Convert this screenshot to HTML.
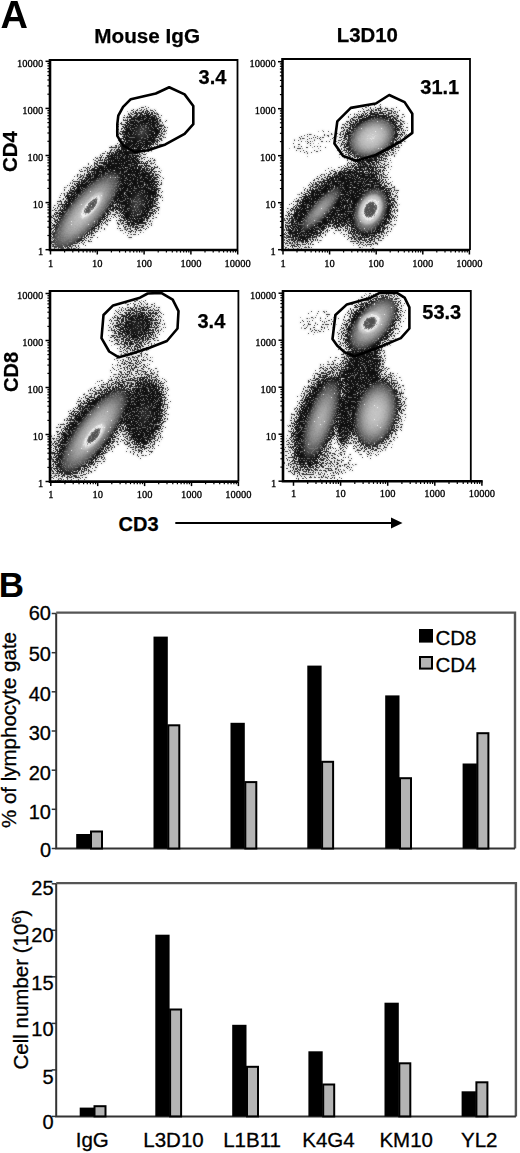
<!DOCTYPE html>
<html><head><meta charset="utf-8"><style>html,body{margin:0;padding:0;background:#fff;}svg{display:block;}</style></head>
<body>
<svg width="520" height="1153" viewBox="0 0 520 1153">
<rect width="520" height="1153" fill="#fff"/>
<defs>
<radialGradient id="g1"><stop offset="0.00" stop-color="#000" stop-opacity="0.600"/><stop offset="0.50" stop-color="#000" stop-opacity="0.520"/><stop offset="0.60" stop-color="#000" stop-opacity="0.450"/><stop offset="0.70" stop-color="#000" stop-opacity="0.330"/><stop offset="0.80" stop-color="#000" stop-opacity="0.200"/><stop offset="0.90" stop-color="#000" stop-opacity="0.090"/><stop offset="1.00" stop-color="#000" stop-opacity="0.000"/></radialGradient>
<radialGradient id="g2"><stop offset="0.00" stop-color="#000" stop-opacity="0.420"/><stop offset="0.50" stop-color="#000" stop-opacity="0.360"/><stop offset="0.70" stop-color="#000" stop-opacity="0.240"/><stop offset="0.85" stop-color="#000" stop-opacity="0.110"/><stop offset="1.00" stop-color="#000" stop-opacity="0.000"/></radialGradient>
<radialGradient id="g3"><stop offset="0.00" stop-color="#fff" stop-opacity="0.740"/><stop offset="0.20" stop-color="#fff" stop-opacity="0.703"/><stop offset="0.50" stop-color="#fff" stop-opacity="0.533"/><stop offset="0.80" stop-color="#fff" stop-opacity="0.266"/><stop offset="1.00" stop-color="#fff" stop-opacity="0.000"/></radialGradient>
<radialGradient id="g4"><stop offset="0.00" stop-color="#fff" stop-opacity="0.200"/><stop offset="0.20" stop-color="#fff" stop-opacity="0.190"/><stop offset="0.50" stop-color="#fff" stop-opacity="0.144"/><stop offset="0.80" stop-color="#fff" stop-opacity="0.072"/><stop offset="1.00" stop-color="#fff" stop-opacity="0.000"/></radialGradient>
<radialGradient id="g5"><stop offset="0.00" stop-color="#fff" stop-opacity="1.000"/><stop offset="0.40" stop-color="#fff" stop-opacity="1.000"/><stop offset="0.50" stop-color="#fff" stop-opacity="0.750"/><stop offset="0.80" stop-color="#fff" stop-opacity="0.450"/><stop offset="1.00" stop-color="#fff" stop-opacity="0.000"/></radialGradient>
<radialGradient id="g6"><stop offset="0.00" stop-color="#000" stop-opacity="0.070"/><stop offset="0.60" stop-color="#000" stop-opacity="0.050"/><stop offset="1.00" stop-color="#000" stop-opacity="0.000"/></radialGradient>
<radialGradient id="g7"><stop offset="0.00" stop-color="#fff" stop-opacity="0.820"/><stop offset="0.20" stop-color="#fff" stop-opacity="0.779"/><stop offset="0.50" stop-color="#fff" stop-opacity="0.590"/><stop offset="0.80" stop-color="#fff" stop-opacity="0.295"/><stop offset="1.00" stop-color="#fff" stop-opacity="0.000"/></radialGradient>
<radialGradient id="g8"><stop offset="0.00" stop-color="#fff" stop-opacity="0.520"/><stop offset="0.20" stop-color="#fff" stop-opacity="0.494"/><stop offset="0.50" stop-color="#fff" stop-opacity="0.374"/><stop offset="0.80" stop-color="#fff" stop-opacity="0.187"/><stop offset="1.00" stop-color="#fff" stop-opacity="0.000"/></radialGradient>
<radialGradient id="g9"><stop offset="0.00" stop-color="#fff" stop-opacity="0.720"/><stop offset="0.20" stop-color="#fff" stop-opacity="0.684"/><stop offset="0.50" stop-color="#fff" stop-opacity="0.518"/><stop offset="0.80" stop-color="#fff" stop-opacity="0.259"/><stop offset="1.00" stop-color="#fff" stop-opacity="0.000"/></radialGradient>
<radialGradient id="g10"><stop offset="0.00" stop-color="#000" stop-opacity="0.220"/><stop offset="0.50" stop-color="#000" stop-opacity="0.150"/><stop offset="0.80" stop-color="#000" stop-opacity="0.060"/><stop offset="1.00" stop-color="#000" stop-opacity="0.000"/></radialGradient>
<radialGradient id="g11"><stop offset="0.00" stop-color="#fff" stop-opacity="0.150"/><stop offset="0.20" stop-color="#fff" stop-opacity="0.142"/><stop offset="0.50" stop-color="#fff" stop-opacity="0.108"/><stop offset="0.80" stop-color="#fff" stop-opacity="0.054"/><stop offset="1.00" stop-color="#fff" stop-opacity="0.000"/></radialGradient>
<radialGradient id="g12"><stop offset="0.00" stop-color="#fff" stop-opacity="0.120"/><stop offset="0.20" stop-color="#fff" stop-opacity="0.114"/><stop offset="0.50" stop-color="#fff" stop-opacity="0.086"/><stop offset="0.80" stop-color="#fff" stop-opacity="0.043"/><stop offset="1.00" stop-color="#fff" stop-opacity="0.000"/></radialGradient>
<radialGradient id="g13"><stop offset="0.00" stop-color="#fff" stop-opacity="0.600"/><stop offset="0.20" stop-color="#fff" stop-opacity="0.570"/><stop offset="0.50" stop-color="#fff" stop-opacity="0.432"/><stop offset="0.80" stop-color="#fff" stop-opacity="0.216"/><stop offset="1.00" stop-color="#fff" stop-opacity="0.000"/></radialGradient>
<radialGradient id="g14"><stop offset="0.00" stop-color="#fff" stop-opacity="0.760"/><stop offset="0.20" stop-color="#fff" stop-opacity="0.722"/><stop offset="0.50" stop-color="#fff" stop-opacity="0.547"/><stop offset="0.80" stop-color="#fff" stop-opacity="0.274"/><stop offset="1.00" stop-color="#fff" stop-opacity="0.000"/></radialGradient>
<clipPath id="cP1"><rect x="51" y="61" width="186" height="188"/></clipPath>
<clipPath id="cP2"><rect x="283.5" y="60" width="186.0" height="189"/></clipPath>
<clipPath id="cP3"><rect x="51" y="292" width="187" height="189"/></clipPath>
<clipPath id="cP4"><rect x="284" y="292" width="186" height="188.5"/></clipPath>
<filter id="dens" filterUnits="userSpaceOnUse" x="45" y="55" width="430" height="432" color-interpolation-filters="sRGB">
<feColorMatrix in="SourceAlpha" type="matrix" values="0 0 0 1 0  0 0 0 1 0  0 0 0 1 0  0 0 0 0 1" result="d"/>
<feFlood flood-color="#000" flood-opacity="1" result="blk"/>
<feComposite in="SourceGraphic" in2="blk" operator="over" result="ri"/>
<feTurbulence type="fractalNoise" baseFrequency="0.7" numOctaves="1" seed="7" result="nz"/>
<feColorMatrix in="nz" type="matrix" values="1 0 0 0 0  1 0 0 0 0  1 0 0 0 0  0 0 0 0 1" result="n"/>
<feComponentTransfer in="n" result="nu">
<feFuncR type="table" tableValues="1.0000 1.0000 1.0000 1.0000 1.0000 1.0000 1.0000 1.0000 1.0000 1.0000 0.9999 0.9999 0.9999 0.9998 0.9998 0.9996 0.9995 0.9993 0.9990 0.9986 0.9981 0.9975 0.9966 0.9955 0.9940 0.9922 0.9899 0.9869 0.9833 0.9789 0.9735 0.9669 0.9591 0.9499 0.9391 0.9266 0.9121 0.8957 0.8771 0.8563 0.8333 0.8080 0.7804 0.7508 0.7191 0.6857 0.6506 0.6141 0.5767 0.5385 0.5000 0.4615 0.4233 0.3859 0.3494 0.3143 0.2809 0.2492 0.2196 0.1920 0.1667 0.1437 0.1229 0.1043 0.0879 0.0734 0.0609 0.0501 0.0409 0.0331 0.0265 0.0211 0.0167 0.0131 0.0101 0.0078 0.0060 0.0045 0.0034 0.0025 0.0019 0.0014 0.0010 0.0007 0.0005 0.0004 0.0002 0.0002 0.0001 0.0001 0.0001 0.0000 0.0000 0.0000 0.0000 0.0000 0.0000 0.0000 0.0000 0.0000 0.0000"/><feFuncG type="table" tableValues="1.0000 1.0000 1.0000 1.0000 1.0000 1.0000 1.0000 1.0000 1.0000 1.0000 0.9999 0.9999 0.9999 0.9998 0.9998 0.9996 0.9995 0.9993 0.9990 0.9986 0.9981 0.9975 0.9966 0.9955 0.9940 0.9922 0.9899 0.9869 0.9833 0.9789 0.9735 0.9669 0.9591 0.9499 0.9391 0.9266 0.9121 0.8957 0.8771 0.8563 0.8333 0.8080 0.7804 0.7508 0.7191 0.6857 0.6506 0.6141 0.5767 0.5385 0.5000 0.4615 0.4233 0.3859 0.3494 0.3143 0.2809 0.2492 0.2196 0.1920 0.1667 0.1437 0.1229 0.1043 0.0879 0.0734 0.0609 0.0501 0.0409 0.0331 0.0265 0.0211 0.0167 0.0131 0.0101 0.0078 0.0060 0.0045 0.0034 0.0025 0.0019 0.0014 0.0010 0.0007 0.0005 0.0004 0.0002 0.0002 0.0001 0.0001 0.0001 0.0000 0.0000 0.0000 0.0000 0.0000 0.0000 0.0000 0.0000 0.0000 0.0000"/><feFuncB type="table" tableValues="1.0000 1.0000 1.0000 1.0000 1.0000 1.0000 1.0000 1.0000 1.0000 1.0000 0.9999 0.9999 0.9999 0.9998 0.9998 0.9996 0.9995 0.9993 0.9990 0.9986 0.9981 0.9975 0.9966 0.9955 0.9940 0.9922 0.9899 0.9869 0.9833 0.9789 0.9735 0.9669 0.9591 0.9499 0.9391 0.9266 0.9121 0.8957 0.8771 0.8563 0.8333 0.8080 0.7804 0.7508 0.7191 0.6857 0.6506 0.6141 0.5767 0.5385 0.5000 0.4615 0.4233 0.3859 0.3494 0.3143 0.2809 0.2492 0.2196 0.1920 0.1667 0.1437 0.1229 0.1043 0.0879 0.0734 0.0609 0.0501 0.0409 0.0331 0.0265 0.0211 0.0167 0.0131 0.0101 0.0078 0.0060 0.0045 0.0034 0.0025 0.0019 0.0014 0.0010 0.0007 0.0005 0.0004 0.0002 0.0002 0.0001 0.0001 0.0001 0.0000 0.0000 0.0000 0.0000 0.0000 0.0000 0.0000 0.0000 0.0000 0.0000"/>
</feComponentTransfer>
<feComponentTransfer in="d" result="dc">
<feFuncR type="table" tableValues="0.0000 0.0222 0.0444 0.0667 0.0889 0.1111 0.1333 0.1556 0.1778 0.2000 0.2222 0.2444 0.2667 0.2889 0.3111 0.3333 0.3556 0.3778 0.4000 0.4222 0.4444 0.4667 0.4889 0.5111 0.5333 0.5556 0.5778 0.6000 0.6222 0.6444 0.6667 0.6889 0.7111 0.7333 0.7556 0.7778 0.8000 0.8222 0.8444 0.8667 0.8889 0.9111 0.9333 0.9556 0.9778 1.0000 1.0000 1.0000 1.0000 1.0000 1.0000 1.0000 1.0000 1.0000 1.0000 1.0000 1.0000 1.0000 1.0000 1.0000 1.0000 1.0000 1.0000 1.0000 1.0000 1.0000 1.0000 1.0000 1.0000 1.0000 1.0000 1.0000 1.0000 1.0000 1.0000 1.0000 1.0000 1.0000 1.0000 1.0000 1.0000 1.0000 1.0000 1.0000 1.0000 1.0000 1.0000 1.0000 1.0000 1.0000 1.0000 1.0000 1.0000 1.0000 1.0000 1.0000 1.0000 1.0000 1.0000 1.0000 1.0000"/><feFuncG type="table" tableValues="0.0000 0.0222 0.0444 0.0667 0.0889 0.1111 0.1333 0.1556 0.1778 0.2000 0.2222 0.2444 0.2667 0.2889 0.3111 0.3333 0.3556 0.3778 0.4000 0.4222 0.4444 0.4667 0.4889 0.5111 0.5333 0.5556 0.5778 0.6000 0.6222 0.6444 0.6667 0.6889 0.7111 0.7333 0.7556 0.7778 0.8000 0.8222 0.8444 0.8667 0.8889 0.9111 0.9333 0.9556 0.9778 1.0000 1.0000 1.0000 1.0000 1.0000 1.0000 1.0000 1.0000 1.0000 1.0000 1.0000 1.0000 1.0000 1.0000 1.0000 1.0000 1.0000 1.0000 1.0000 1.0000 1.0000 1.0000 1.0000 1.0000 1.0000 1.0000 1.0000 1.0000 1.0000 1.0000 1.0000 1.0000 1.0000 1.0000 1.0000 1.0000 1.0000 1.0000 1.0000 1.0000 1.0000 1.0000 1.0000 1.0000 1.0000 1.0000 1.0000 1.0000 1.0000 1.0000 1.0000 1.0000 1.0000 1.0000 1.0000 1.0000"/><feFuncB type="table" tableValues="0.0000 0.0222 0.0444 0.0667 0.0889 0.1111 0.1333 0.1556 0.1778 0.2000 0.2222 0.2444 0.2667 0.2889 0.3111 0.3333 0.3556 0.3778 0.4000 0.4222 0.4444 0.4667 0.4889 0.5111 0.5333 0.5556 0.5778 0.6000 0.6222 0.6444 0.6667 0.6889 0.7111 0.7333 0.7556 0.7778 0.8000 0.8222 0.8444 0.8667 0.8889 0.9111 0.9333 0.9556 0.9778 1.0000 1.0000 1.0000 1.0000 1.0000 1.0000 1.0000 1.0000 1.0000 1.0000 1.0000 1.0000 1.0000 1.0000 1.0000 1.0000 1.0000 1.0000 1.0000 1.0000 1.0000 1.0000 1.0000 1.0000 1.0000 1.0000 1.0000 1.0000 1.0000 1.0000 1.0000 1.0000 1.0000 1.0000 1.0000 1.0000 1.0000 1.0000 1.0000 1.0000 1.0000 1.0000 1.0000 1.0000 1.0000 1.0000 1.0000 1.0000 1.0000 1.0000 1.0000 1.0000 1.0000 1.0000 1.0000 1.0000"/>
</feComponentTransfer>
<feComposite in="dc" in2="nu" operator="arithmetic" k2="1" k3="1" k4="-0.51" result="s1"/>
<feComponentTransfer in="s1" result="m1">
<feFuncR type="discrete" tableValues="1 0"/><feFuncG type="discrete" tableValues="1 0"/><feFuncB type="discrete" tableValues="1 0"/>
</feComponentTransfer>
<feComponentTransfer in="d" result="dcb">
<feFuncR type="table" tableValues="0.0000 0.0182 0.0364 0.0547 0.0729 0.0911 0.1093 0.1276 0.1458 0.1640 0.1822 0.2004 0.2187 0.2369 0.2551 0.2733 0.2916 0.3098 0.3280 0.3462 0.3644 0.3827 0.4009 0.4191 0.4373 0.4556 0.4738 0.4920 0.5102 0.5284 0.5467 0.5649 0.5831 0.6013 0.6196 0.6378 0.6560 0.6742 0.6924 0.7107 0.7289 0.7471 0.7653 0.7836 0.8018 0.8200 0.8200 0.8200 0.8200 0.8200 0.8200 0.8200 0.8200 0.8200 0.8200 0.8200 0.8200 0.8200 0.8200 0.8200 0.8200 0.8200 0.8200 0.8200 0.8200 0.8200 0.8200 0.8200 0.8200 0.8200 0.8200 0.8200 0.8200 0.8200 0.8200 0.8200 0.8200 0.8200 0.8200 0.8200 0.8200 0.8200 0.8200 0.8200 0.8200 0.8200 0.8200 0.8200 0.8200 0.8200 0.8200 0.8200 0.8200 0.8200 0.8200 0.8200 0.8200 0.8200 0.8200 0.8200 0.8200"/><feFuncG type="table" tableValues="0.0000 0.0182 0.0364 0.0547 0.0729 0.0911 0.1093 0.1276 0.1458 0.1640 0.1822 0.2004 0.2187 0.2369 0.2551 0.2733 0.2916 0.3098 0.3280 0.3462 0.3644 0.3827 0.4009 0.4191 0.4373 0.4556 0.4738 0.4920 0.5102 0.5284 0.5467 0.5649 0.5831 0.6013 0.6196 0.6378 0.6560 0.6742 0.6924 0.7107 0.7289 0.7471 0.7653 0.7836 0.8018 0.8200 0.8200 0.8200 0.8200 0.8200 0.8200 0.8200 0.8200 0.8200 0.8200 0.8200 0.8200 0.8200 0.8200 0.8200 0.8200 0.8200 0.8200 0.8200 0.8200 0.8200 0.8200 0.8200 0.8200 0.8200 0.8200 0.8200 0.8200 0.8200 0.8200 0.8200 0.8200 0.8200 0.8200 0.8200 0.8200 0.8200 0.8200 0.8200 0.8200 0.8200 0.8200 0.8200 0.8200 0.8200 0.8200 0.8200 0.8200 0.8200 0.8200 0.8200 0.8200 0.8200 0.8200 0.8200 0.8200"/><feFuncB type="table" tableValues="0.0000 0.0182 0.0364 0.0547 0.0729 0.0911 0.1093 0.1276 0.1458 0.1640 0.1822 0.2004 0.2187 0.2369 0.2551 0.2733 0.2916 0.3098 0.3280 0.3462 0.3644 0.3827 0.4009 0.4191 0.4373 0.4556 0.4738 0.4920 0.5102 0.5284 0.5467 0.5649 0.5831 0.6013 0.6196 0.6378 0.6560 0.6742 0.6924 0.7107 0.7289 0.7471 0.7653 0.7836 0.8018 0.8200 0.8200 0.8200 0.8200 0.8200 0.8200 0.8200 0.8200 0.8200 0.8200 0.8200 0.8200 0.8200 0.8200 0.8200 0.8200 0.8200 0.8200 0.8200 0.8200 0.8200 0.8200 0.8200 0.8200 0.8200 0.8200 0.8200 0.8200 0.8200 0.8200 0.8200 0.8200 0.8200 0.8200 0.8200 0.8200 0.8200 0.8200 0.8200 0.8200 0.8200 0.8200 0.8200 0.8200 0.8200 0.8200 0.8200 0.8200 0.8200 0.8200 0.8200 0.8200 0.8200 0.8200 0.8200 0.8200"/>
</feComponentTransfer>
<feComposite in="dcb" in2="nu" operator="arithmetic" k2="1" k3="1" k4="-0.51" result="s1b"/>
<feComponentTransfer in="s1b" result="m2">
<feFuncR type="discrete" tableValues="1 0"/><feFuncG type="discrete" tableValues="1 0"/><feFuncB type="discrete" tableValues="1 0"/>
</feComponentTransfer>
<feComposite in="m1" in2="m2" operator="arithmetic" k2="0.5" k3="0.5" result="m"/>
<feComposite in="ri" in2="n" operator="arithmetic" k2="1" k3="0.2" k4="-0.1" result="s2"/>
<feComponentTransfer in="s2" result="g">
<feFuncR type="table" tableValues="0.050 0.055 0.060 0.065 0.070 0.075 0.080 0.085 0.090 0.095 0.100 0.115 0.129 0.144 0.159 0.173 0.188 0.203 0.217 0.232 0.247 0.261 0.276 0.291 0.305 0.320 0.332 0.343 0.355 0.366 0.378 0.389 0.401 0.412 0.424 0.435 0.447 0.458 0.470 0.481 0.493 0.504 0.516 0.527 0.538 0.550 0.558 0.567 0.576 0.584 0.593 0.601 0.610 0.618 0.627 0.635 0.644 0.652 0.660 0.669 0.677 0.686 0.694 0.703 0.712 0.720 0.725 0.729 0.734 0.739 0.743 0.748 0.753 0.757 0.762 0.767 0.771 0.776 0.781 0.785 0.790 0.820 0.850 0.880 0.910 0.940 0.970 0.965 0.960 0.955 0.950 0.753 0.557 0.360 0.351 0.343 0.334 0.326 0.317 0.309 0.300"/><feFuncG type="table" tableValues="0.050 0.055 0.060 0.065 0.070 0.075 0.080 0.085 0.090 0.095 0.100 0.115 0.129 0.144 0.159 0.173 0.188 0.203 0.217 0.232 0.247 0.261 0.276 0.291 0.305 0.320 0.332 0.343 0.355 0.366 0.378 0.389 0.401 0.412 0.424 0.435 0.447 0.458 0.470 0.481 0.493 0.504 0.516 0.527 0.538 0.550 0.558 0.567 0.576 0.584 0.593 0.601 0.610 0.618 0.627 0.635 0.644 0.652 0.660 0.669 0.677 0.686 0.694 0.703 0.712 0.720 0.725 0.729 0.734 0.739 0.743 0.748 0.753 0.757 0.762 0.767 0.771 0.776 0.781 0.785 0.790 0.820 0.850 0.880 0.910 0.940 0.970 0.965 0.960 0.955 0.950 0.753 0.557 0.360 0.351 0.343 0.334 0.326 0.317 0.309 0.300"/><feFuncB type="table" tableValues="0.050 0.055 0.060 0.065 0.070 0.075 0.080 0.085 0.090 0.095 0.100 0.115 0.129 0.144 0.159 0.173 0.188 0.203 0.217 0.232 0.247 0.261 0.276 0.291 0.305 0.320 0.332 0.343 0.355 0.366 0.378 0.389 0.401 0.412 0.424 0.435 0.447 0.458 0.470 0.481 0.493 0.504 0.516 0.527 0.538 0.550 0.558 0.567 0.576 0.584 0.593 0.601 0.610 0.618 0.627 0.635 0.644 0.652 0.660 0.669 0.677 0.686 0.694 0.703 0.712 0.720 0.725 0.729 0.734 0.739 0.743 0.748 0.753 0.757 0.762 0.767 0.771 0.776 0.781 0.785 0.790 0.820 0.850 0.880 0.910 0.940 0.970 0.965 0.960 0.955 0.950 0.753 0.557 0.360 0.351 0.343 0.334 0.326 0.317 0.309 0.300"/>
</feComponentTransfer>
<feBlend in="m" in2="g" mode="lighten" result="fin"/>
<feGaussianBlur in="fin" stdDeviation="1.0" result="bl"/>
<feComposite in="fin" in2="bl" operator="arithmetic" k2="0.5" k3="0.5"/>
</filter>
</defs>
<g filter="url(#dens)">
<g clip-path="url(#cP1)"><ellipse cx="91" cy="201" rx="72" ry="30" transform="rotate(-52 91 201)" fill="url(#g1)"/><ellipse cx="138" cy="196" rx="44" ry="26" transform="rotate(-78 138 196)" fill="url(#g1)"/><ellipse cx="142" cy="131" rx="28" ry="25" transform="rotate(-40 142 131)" fill="url(#g1)"/><ellipse cx="123" cy="160" rx="26" ry="18" transform="rotate(-50 123 160)" fill="url(#g2)"/><ellipse cx="86" cy="211" rx="54" ry="18" transform="rotate(-50 86 211)" fill="url(#g3)"/><ellipse cx="137" cy="204" rx="18" ry="10" transform="rotate(-78 137 204)" fill="url(#g4)"/><ellipse cx="142" cy="132" rx="12" ry="10" transform="rotate(-40 142 132)" fill="url(#g4)"/><ellipse cx="91.3" cy="205.8" rx="18" ry="6.5" transform="rotate(-51 91.3 205.8)" fill="url(#g5)"/></g>
<g clip-path="url(#cP2)"><ellipse cx="372" cy="136" rx="40" ry="31" transform="rotate(-30 372 136)" fill="url(#g1)"/><ellipse cx="317" cy="210" rx="56" ry="26" transform="rotate(-50 317 210)" fill="url(#g1)"/><ellipse cx="312" cy="143" rx="30" ry="14" transform="rotate(-15 312 143)" fill="url(#g6)"/><ellipse cx="370" cy="211" rx="42" ry="30" transform="rotate(-72 370 211)" fill="url(#g1)"/><ellipse cx="356" cy="178" rx="40" ry="18" transform="rotate(-25 356 178)" fill="url(#g2)"/><ellipse cx="345" cy="205" rx="32" ry="14" transform="rotate(-70 345 205)" fill="url(#g1)"/><ellipse cx="372" cy="137.5" rx="27" ry="20" transform="rotate(-30 372 137.5)" fill="url(#g7)"/><ellipse cx="321" cy="209" rx="32" ry="9.5" transform="rotate(-48 321 209)" fill="url(#g8)"/><ellipse cx="370.5" cy="210.5" rx="26" ry="17" transform="rotate(-66 370.5 210.5)" fill="url(#g9)"/><ellipse cx="370.5" cy="209.5" rx="17" ry="12" transform="rotate(-65 370.5 209.5)" fill="url(#g5)"/></g>
<g clip-path="url(#cP3)"><ellipse cx="91" cy="431" rx="72" ry="32" transform="rotate(-53 91 431)" fill="url(#g1)"/><ellipse cx="145" cy="413" rx="48" ry="25" transform="rotate(-80 145 413)" fill="url(#g1)"/><ellipse cx="136" cy="327" rx="32" ry="27" transform="rotate(-30 136 327)" fill="url(#g2)"/><ellipse cx="137" cy="325" rx="14" ry="12" transform="rotate(-30 137 325)" fill="url(#g1)"/><ellipse cx="132" cy="368" rx="32" ry="22" transform="rotate(-70 132 368)" fill="url(#g10)"/><ellipse cx="94" cy="431" rx="56" ry="18" transform="rotate(-53 94 431)" fill="url(#g3)"/><ellipse cx="145" cy="415" rx="16" ry="9" transform="rotate(-80 145 415)" fill="url(#g11)"/><ellipse cx="136" cy="327" rx="10" ry="9" transform="rotate(-30 136 327)" fill="url(#g12)"/><ellipse cx="93.75" cy="436.25" rx="18" ry="7" transform="rotate(-50 93.75 436.25)" fill="url(#g5)"/></g>
<g clip-path="url(#cP4)"><ellipse cx="371" cy="325" rx="44" ry="29" transform="rotate(-50 371 325)" fill="url(#g1)"/><ellipse cx="318" cy="418" rx="66" ry="28" transform="rotate(-70 318 418)" fill="url(#g1)"/><ellipse cx="376" cy="413" rx="48" ry="31" transform="rotate(-75 376 413)" fill="url(#g1)"/><ellipse cx="362" cy="368" rx="32" ry="24" transform="rotate(-60 362 368)" fill="url(#g1)"/><ellipse cx="349" cy="412" rx="46" ry="11" transform="rotate(-78 349 412)" fill="url(#g1)"/><ellipse cx="320" cy="465" rx="40" ry="20" transform="rotate(0 320 465)" fill="url(#g10)"/><ellipse cx="318" cy="322" rx="24" ry="14" transform="rotate(-10 318 322)" fill="url(#g6)"/><ellipse cx="373" cy="323.6" rx="35" ry="17.5" transform="rotate(-50 373 323.6)" fill="url(#g3)"/><ellipse cx="321" cy="419" rx="46" ry="15" transform="rotate(-71 321 419)" fill="url(#g13)"/><ellipse cx="375.75" cy="413.75" rx="36" ry="22" transform="rotate(-75 375.75 413.75)" fill="url(#g14)"/><ellipse cx="369.5" cy="322.7" rx="14" ry="10" transform="rotate(-40 369.5 322.7)" fill="url(#g5)"/></g>
</g>
<path d="M50 60H237.5V250" fill="none" stroke="#000" stroke-width="1.8"/>
<path d="M50 59.1V250H237.5" fill="none" stroke="#000" stroke-width="2.6"/>
<line x1="45.5" y1="249.7" x2="50" y2="249.7" stroke="#000" stroke-width="1.5"/>
<text x="43.2" y="255.0" font-family="&quot;Liberation Serif&quot;, serif" font-size="10.5" text-anchor="end" stroke="#000" stroke-width="0.3">1</text>
<line x1="47.4" y1="235.5" x2="50" y2="235.5" stroke="#000" stroke-width="1.2"/>
<line x1="47.4" y1="227.2" x2="50" y2="227.2" stroke="#000" stroke-width="1.2"/>
<line x1="47.4" y1="221.3" x2="50" y2="221.3" stroke="#000" stroke-width="1.2"/>
<line x1="47.4" y1="216.8" x2="50" y2="216.8" stroke="#000" stroke-width="1.2"/>
<line x1="47.4" y1="213.0" x2="50" y2="213.0" stroke="#000" stroke-width="1.2"/>
<line x1="47.4" y1="209.9" x2="50" y2="209.9" stroke="#000" stroke-width="1.2"/>
<line x1="47.4" y1="207.2" x2="50" y2="207.2" stroke="#000" stroke-width="1.2"/>
<line x1="47.4" y1="204.8" x2="50" y2="204.8" stroke="#000" stroke-width="1.2"/>
<line x1="45.5" y1="202.6" x2="50" y2="202.6" stroke="#000" stroke-width="1.5"/>
<text x="43.2" y="207.9" font-family="&quot;Liberation Serif&quot;, serif" font-size="10.5" text-anchor="end" stroke="#000" stroke-width="0.3">10</text>
<line x1="47.4" y1="188.4" x2="50" y2="188.4" stroke="#000" stroke-width="1.2"/>
<line x1="47.4" y1="180.1" x2="50" y2="180.1" stroke="#000" stroke-width="1.2"/>
<line x1="47.4" y1="174.2" x2="50" y2="174.2" stroke="#000" stroke-width="1.2"/>
<line x1="47.4" y1="169.7" x2="50" y2="169.7" stroke="#000" stroke-width="1.2"/>
<line x1="47.4" y1="165.9" x2="50" y2="165.9" stroke="#000" stroke-width="1.2"/>
<line x1="47.4" y1="162.8" x2="50" y2="162.8" stroke="#000" stroke-width="1.2"/>
<line x1="47.4" y1="160.1" x2="50" y2="160.1" stroke="#000" stroke-width="1.2"/>
<line x1="47.4" y1="157.7" x2="50" y2="157.7" stroke="#000" stroke-width="1.2"/>
<line x1="45.5" y1="155.5" x2="50" y2="155.5" stroke="#000" stroke-width="1.5"/>
<text x="43.2" y="160.8" font-family="&quot;Liberation Serif&quot;, serif" font-size="10.5" text-anchor="end" stroke="#000" stroke-width="0.3">100</text>
<line x1="47.4" y1="141.3" x2="50" y2="141.3" stroke="#000" stroke-width="1.2"/>
<line x1="47.4" y1="133.0" x2="50" y2="133.0" stroke="#000" stroke-width="1.2"/>
<line x1="47.4" y1="127.1" x2="50" y2="127.1" stroke="#000" stroke-width="1.2"/>
<line x1="47.4" y1="122.6" x2="50" y2="122.6" stroke="#000" stroke-width="1.2"/>
<line x1="47.4" y1="118.8" x2="50" y2="118.8" stroke="#000" stroke-width="1.2"/>
<line x1="47.4" y1="115.7" x2="50" y2="115.7" stroke="#000" stroke-width="1.2"/>
<line x1="47.4" y1="113.0" x2="50" y2="113.0" stroke="#000" stroke-width="1.2"/>
<line x1="47.4" y1="110.6" x2="50" y2="110.6" stroke="#000" stroke-width="1.2"/>
<line x1="45.5" y1="108.4" x2="50" y2="108.4" stroke="#000" stroke-width="1.5"/>
<text x="43.2" y="113.7" font-family="&quot;Liberation Serif&quot;, serif" font-size="10.5" text-anchor="end" stroke="#000" stroke-width="0.3">1000</text>
<line x1="47.4" y1="94.2" x2="50" y2="94.2" stroke="#000" stroke-width="1.2"/>
<line x1="47.4" y1="85.9" x2="50" y2="85.9" stroke="#000" stroke-width="1.2"/>
<line x1="47.4" y1="80.0" x2="50" y2="80.0" stroke="#000" stroke-width="1.2"/>
<line x1="47.4" y1="75.5" x2="50" y2="75.5" stroke="#000" stroke-width="1.2"/>
<line x1="47.4" y1="71.7" x2="50" y2="71.7" stroke="#000" stroke-width="1.2"/>
<line x1="47.4" y1="68.6" x2="50" y2="68.6" stroke="#000" stroke-width="1.2"/>
<line x1="47.4" y1="65.9" x2="50" y2="65.9" stroke="#000" stroke-width="1.2"/>
<line x1="47.4" y1="63.5" x2="50" y2="63.5" stroke="#000" stroke-width="1.2"/>
<line x1="45.5" y1="61.3" x2="50" y2="61.3" stroke="#000" stroke-width="1.5"/>
<text x="43.2" y="66.6" font-family="&quot;Liberation Serif&quot;, serif" font-size="10.5" text-anchor="end" stroke="#000" stroke-width="0.3">10000</text>
<line x1="50.5" y1="250" x2="50.5" y2="254.5" stroke="#000" stroke-width="1.5"/>
<text x="50.5" y="266.7" font-family="&quot;Liberation Serif&quot;, serif" font-size="10.5" text-anchor="middle" stroke="#000" stroke-width="0.3">1</text>
<line x1="64.6" y1="250" x2="64.6" y2="252.6" stroke="#000" stroke-width="1.2"/>
<line x1="72.8" y1="250" x2="72.8" y2="252.6" stroke="#000" stroke-width="1.2"/>
<line x1="78.7" y1="250" x2="78.7" y2="252.6" stroke="#000" stroke-width="1.2"/>
<line x1="83.2" y1="250" x2="83.2" y2="252.6" stroke="#000" stroke-width="1.2"/>
<line x1="86.9" y1="250" x2="86.9" y2="252.6" stroke="#000" stroke-width="1.2"/>
<line x1="90.1" y1="250" x2="90.1" y2="252.6" stroke="#000" stroke-width="1.2"/>
<line x1="92.8" y1="250" x2="92.8" y2="252.6" stroke="#000" stroke-width="1.2"/>
<line x1="95.2" y1="250" x2="95.2" y2="252.6" stroke="#000" stroke-width="1.2"/>
<line x1="97.3" y1="250" x2="97.3" y2="254.5" stroke="#000" stroke-width="1.5"/>
<text x="97.3" y="266.7" font-family="&quot;Liberation Serif&quot;, serif" font-size="10.5" text-anchor="middle" stroke="#000" stroke-width="0.3">10</text>
<line x1="111.4" y1="250" x2="111.4" y2="252.6" stroke="#000" stroke-width="1.2"/>
<line x1="119.6" y1="250" x2="119.6" y2="252.6" stroke="#000" stroke-width="1.2"/>
<line x1="125.5" y1="250" x2="125.5" y2="252.6" stroke="#000" stroke-width="1.2"/>
<line x1="130.0" y1="250" x2="130.0" y2="252.6" stroke="#000" stroke-width="1.2"/>
<line x1="133.7" y1="250" x2="133.7" y2="252.6" stroke="#000" stroke-width="1.2"/>
<line x1="136.9" y1="250" x2="136.9" y2="252.6" stroke="#000" stroke-width="1.2"/>
<line x1="139.6" y1="250" x2="139.6" y2="252.6" stroke="#000" stroke-width="1.2"/>
<line x1="142.0" y1="250" x2="142.0" y2="252.6" stroke="#000" stroke-width="1.2"/>
<line x1="144.1" y1="250" x2="144.1" y2="254.5" stroke="#000" stroke-width="1.5"/>
<text x="144.1" y="266.7" font-family="&quot;Liberation Serif&quot;, serif" font-size="10.5" text-anchor="middle" stroke="#000" stroke-width="0.3">100</text>
<line x1="158.2" y1="250" x2="158.2" y2="252.6" stroke="#000" stroke-width="1.2"/>
<line x1="166.4" y1="250" x2="166.4" y2="252.6" stroke="#000" stroke-width="1.2"/>
<line x1="172.3" y1="250" x2="172.3" y2="252.6" stroke="#000" stroke-width="1.2"/>
<line x1="176.8" y1="250" x2="176.8" y2="252.6" stroke="#000" stroke-width="1.2"/>
<line x1="180.5" y1="250" x2="180.5" y2="252.6" stroke="#000" stroke-width="1.2"/>
<line x1="183.7" y1="250" x2="183.7" y2="252.6" stroke="#000" stroke-width="1.2"/>
<line x1="186.4" y1="250" x2="186.4" y2="252.6" stroke="#000" stroke-width="1.2"/>
<line x1="188.8" y1="250" x2="188.8" y2="252.6" stroke="#000" stroke-width="1.2"/>
<line x1="190.9" y1="250" x2="190.9" y2="254.5" stroke="#000" stroke-width="1.5"/>
<text x="190.9" y="266.7" font-family="&quot;Liberation Serif&quot;, serif" font-size="10.5" text-anchor="middle" stroke="#000" stroke-width="0.3">1000</text>
<line x1="205.0" y1="250" x2="205.0" y2="252.6" stroke="#000" stroke-width="1.2"/>
<line x1="213.2" y1="250" x2="213.2" y2="252.6" stroke="#000" stroke-width="1.2"/>
<line x1="219.1" y1="250" x2="219.1" y2="252.6" stroke="#000" stroke-width="1.2"/>
<line x1="223.6" y1="250" x2="223.6" y2="252.6" stroke="#000" stroke-width="1.2"/>
<line x1="227.3" y1="250" x2="227.3" y2="252.6" stroke="#000" stroke-width="1.2"/>
<line x1="230.5" y1="250" x2="230.5" y2="252.6" stroke="#000" stroke-width="1.2"/>
<line x1="233.2" y1="250" x2="233.2" y2="252.6" stroke="#000" stroke-width="1.2"/>
<line x1="235.6" y1="250" x2="235.6" y2="252.6" stroke="#000" stroke-width="1.2"/>
<line x1="237.7" y1="250" x2="237.7" y2="254.5" stroke="#000" stroke-width="1.5"/>
<text x="237.7" y="266.7" font-family="&quot;Liberation Serif&quot;, serif" font-size="10.5" text-anchor="middle" stroke="#000" stroke-width="0.3">10000</text>
<path d="M282.5 59H470V250" fill="none" stroke="#000" stroke-width="1.8"/>
<path d="M282.5 58.1V250H470" fill="none" stroke="#000" stroke-width="2.6"/>
<line x1="278.0" y1="249.7" x2="282.5" y2="249.7" stroke="#000" stroke-width="1.5"/>
<text x="275.7" y="255.0" font-family="&quot;Liberation Serif&quot;, serif" font-size="10.5" text-anchor="end" stroke="#000" stroke-width="0.3">1</text>
<line x1="279.9" y1="235.6" x2="282.5" y2="235.6" stroke="#000" stroke-width="1.2"/>
<line x1="279.9" y1="227.3" x2="282.5" y2="227.3" stroke="#000" stroke-width="1.2"/>
<line x1="279.9" y1="221.4" x2="282.5" y2="221.4" stroke="#000" stroke-width="1.2"/>
<line x1="279.9" y1="216.8" x2="282.5" y2="216.8" stroke="#000" stroke-width="1.2"/>
<line x1="279.9" y1="213.1" x2="282.5" y2="213.1" stroke="#000" stroke-width="1.2"/>
<line x1="279.9" y1="210.0" x2="282.5" y2="210.0" stroke="#000" stroke-width="1.2"/>
<line x1="279.9" y1="207.3" x2="282.5" y2="207.3" stroke="#000" stroke-width="1.2"/>
<line x1="279.9" y1="204.9" x2="282.5" y2="204.9" stroke="#000" stroke-width="1.2"/>
<line x1="278.0" y1="202.7" x2="282.5" y2="202.7" stroke="#000" stroke-width="1.5"/>
<text x="275.7" y="208.0" font-family="&quot;Liberation Serif&quot;, serif" font-size="10.5" text-anchor="end" stroke="#000" stroke-width="0.3">10</text>
<line x1="279.9" y1="188.6" x2="282.5" y2="188.6" stroke="#000" stroke-width="1.2"/>
<line x1="279.9" y1="180.3" x2="282.5" y2="180.3" stroke="#000" stroke-width="1.2"/>
<line x1="279.9" y1="174.4" x2="282.5" y2="174.4" stroke="#000" stroke-width="1.2"/>
<line x1="279.9" y1="169.8" x2="282.5" y2="169.8" stroke="#000" stroke-width="1.2"/>
<line x1="279.9" y1="166.1" x2="282.5" y2="166.1" stroke="#000" stroke-width="1.2"/>
<line x1="279.9" y1="163.0" x2="282.5" y2="163.0" stroke="#000" stroke-width="1.2"/>
<line x1="279.9" y1="160.3" x2="282.5" y2="160.3" stroke="#000" stroke-width="1.2"/>
<line x1="279.9" y1="157.9" x2="282.5" y2="157.9" stroke="#000" stroke-width="1.2"/>
<line x1="278.0" y1="155.7" x2="282.5" y2="155.7" stroke="#000" stroke-width="1.5"/>
<text x="275.7" y="161.0" font-family="&quot;Liberation Serif&quot;, serif" font-size="10.5" text-anchor="end" stroke="#000" stroke-width="0.3">100</text>
<line x1="279.9" y1="141.6" x2="282.5" y2="141.6" stroke="#000" stroke-width="1.2"/>
<line x1="279.9" y1="133.3" x2="282.5" y2="133.3" stroke="#000" stroke-width="1.2"/>
<line x1="279.9" y1="127.4" x2="282.5" y2="127.4" stroke="#000" stroke-width="1.2"/>
<line x1="279.9" y1="122.8" x2="282.5" y2="122.8" stroke="#000" stroke-width="1.2"/>
<line x1="279.9" y1="119.1" x2="282.5" y2="119.1" stroke="#000" stroke-width="1.2"/>
<line x1="279.9" y1="116.0" x2="282.5" y2="116.0" stroke="#000" stroke-width="1.2"/>
<line x1="279.9" y1="113.3" x2="282.5" y2="113.3" stroke="#000" stroke-width="1.2"/>
<line x1="279.9" y1="110.9" x2="282.5" y2="110.9" stroke="#000" stroke-width="1.2"/>
<line x1="278.0" y1="108.7" x2="282.5" y2="108.7" stroke="#000" stroke-width="1.5"/>
<text x="275.7" y="114.0" font-family="&quot;Liberation Serif&quot;, serif" font-size="10.5" text-anchor="end" stroke="#000" stroke-width="0.3">1000</text>
<line x1="279.9" y1="94.6" x2="282.5" y2="94.6" stroke="#000" stroke-width="1.2"/>
<line x1="279.9" y1="86.3" x2="282.5" y2="86.3" stroke="#000" stroke-width="1.2"/>
<line x1="279.9" y1="80.4" x2="282.5" y2="80.4" stroke="#000" stroke-width="1.2"/>
<line x1="279.9" y1="75.8" x2="282.5" y2="75.8" stroke="#000" stroke-width="1.2"/>
<line x1="279.9" y1="72.1" x2="282.5" y2="72.1" stroke="#000" stroke-width="1.2"/>
<line x1="279.9" y1="69.0" x2="282.5" y2="69.0" stroke="#000" stroke-width="1.2"/>
<line x1="279.9" y1="66.3" x2="282.5" y2="66.3" stroke="#000" stroke-width="1.2"/>
<line x1="279.9" y1="63.9" x2="282.5" y2="63.9" stroke="#000" stroke-width="1.2"/>
<line x1="278.0" y1="61.7" x2="282.5" y2="61.7" stroke="#000" stroke-width="1.5"/>
<text x="275.7" y="67.0" font-family="&quot;Liberation Serif&quot;, serif" font-size="10.5" text-anchor="end" stroke="#000" stroke-width="0.3">10000</text>
<line x1="283.0" y1="250" x2="283.0" y2="254.5" stroke="#000" stroke-width="1.5"/>
<text x="283.0" y="266.7" font-family="&quot;Liberation Serif&quot;, serif" font-size="10.5" text-anchor="middle" stroke="#000" stroke-width="0.3">1</text>
<line x1="297.0" y1="250" x2="297.0" y2="252.6" stroke="#000" stroke-width="1.2"/>
<line x1="305.2" y1="250" x2="305.2" y2="252.6" stroke="#000" stroke-width="1.2"/>
<line x1="311.1" y1="250" x2="311.1" y2="252.6" stroke="#000" stroke-width="1.2"/>
<line x1="315.6" y1="250" x2="315.6" y2="252.6" stroke="#000" stroke-width="1.2"/>
<line x1="319.3" y1="250" x2="319.3" y2="252.6" stroke="#000" stroke-width="1.2"/>
<line x1="322.4" y1="250" x2="322.4" y2="252.6" stroke="#000" stroke-width="1.2"/>
<line x1="325.1" y1="250" x2="325.1" y2="252.6" stroke="#000" stroke-width="1.2"/>
<line x1="327.5" y1="250" x2="327.5" y2="252.6" stroke="#000" stroke-width="1.2"/>
<line x1="329.6" y1="250" x2="329.6" y2="254.5" stroke="#000" stroke-width="1.5"/>
<text x="329.6" y="266.7" font-family="&quot;Liberation Serif&quot;, serif" font-size="10.5" text-anchor="middle" stroke="#000" stroke-width="0.3">10</text>
<line x1="343.6" y1="250" x2="343.6" y2="252.6" stroke="#000" stroke-width="1.2"/>
<line x1="351.8" y1="250" x2="351.8" y2="252.6" stroke="#000" stroke-width="1.2"/>
<line x1="357.7" y1="250" x2="357.7" y2="252.6" stroke="#000" stroke-width="1.2"/>
<line x1="362.2" y1="250" x2="362.2" y2="252.6" stroke="#000" stroke-width="1.2"/>
<line x1="365.9" y1="250" x2="365.9" y2="252.6" stroke="#000" stroke-width="1.2"/>
<line x1="369.0" y1="250" x2="369.0" y2="252.6" stroke="#000" stroke-width="1.2"/>
<line x1="371.7" y1="250" x2="371.7" y2="252.6" stroke="#000" stroke-width="1.2"/>
<line x1="374.1" y1="250" x2="374.1" y2="252.6" stroke="#000" stroke-width="1.2"/>
<line x1="376.2" y1="250" x2="376.2" y2="254.5" stroke="#000" stroke-width="1.5"/>
<text x="376.2" y="266.7" font-family="&quot;Liberation Serif&quot;, serif" font-size="10.5" text-anchor="middle" stroke="#000" stroke-width="0.3">100</text>
<line x1="390.2" y1="250" x2="390.2" y2="252.6" stroke="#000" stroke-width="1.2"/>
<line x1="398.4" y1="250" x2="398.4" y2="252.6" stroke="#000" stroke-width="1.2"/>
<line x1="404.3" y1="250" x2="404.3" y2="252.6" stroke="#000" stroke-width="1.2"/>
<line x1="408.8" y1="250" x2="408.8" y2="252.6" stroke="#000" stroke-width="1.2"/>
<line x1="412.5" y1="250" x2="412.5" y2="252.6" stroke="#000" stroke-width="1.2"/>
<line x1="415.6" y1="250" x2="415.6" y2="252.6" stroke="#000" stroke-width="1.2"/>
<line x1="418.3" y1="250" x2="418.3" y2="252.6" stroke="#000" stroke-width="1.2"/>
<line x1="420.7" y1="250" x2="420.7" y2="252.6" stroke="#000" stroke-width="1.2"/>
<line x1="422.8" y1="250" x2="422.8" y2="254.5" stroke="#000" stroke-width="1.5"/>
<text x="422.8" y="266.7" font-family="&quot;Liberation Serif&quot;, serif" font-size="10.5" text-anchor="middle" stroke="#000" stroke-width="0.3">1000</text>
<line x1="436.8" y1="250" x2="436.8" y2="252.6" stroke="#000" stroke-width="1.2"/>
<line x1="445.0" y1="250" x2="445.0" y2="252.6" stroke="#000" stroke-width="1.2"/>
<line x1="450.9" y1="250" x2="450.9" y2="252.6" stroke="#000" stroke-width="1.2"/>
<line x1="455.4" y1="250" x2="455.4" y2="252.6" stroke="#000" stroke-width="1.2"/>
<line x1="459.1" y1="250" x2="459.1" y2="252.6" stroke="#000" stroke-width="1.2"/>
<line x1="462.2" y1="250" x2="462.2" y2="252.6" stroke="#000" stroke-width="1.2"/>
<line x1="464.9" y1="250" x2="464.9" y2="252.6" stroke="#000" stroke-width="1.2"/>
<line x1="467.3" y1="250" x2="467.3" y2="252.6" stroke="#000" stroke-width="1.2"/>
<line x1="469.4" y1="250" x2="469.4" y2="254.5" stroke="#000" stroke-width="1.5"/>
<text x="469.4" y="266.7" font-family="&quot;Liberation Serif&quot;, serif" font-size="10.5" text-anchor="middle" stroke="#000" stroke-width="0.3">10000</text>
<path d="M50 291H238.4V481.6" fill="none" stroke="#000" stroke-width="1.8"/>
<path d="M50 290.1V481.6H238.4" fill="none" stroke="#000" stroke-width="2.6"/>
<line x1="45.5" y1="481.5" x2="50" y2="481.5" stroke="#000" stroke-width="1.5"/>
<text x="43.2" y="486.8" font-family="&quot;Liberation Serif&quot;, serif" font-size="10.5" text-anchor="end" stroke="#000" stroke-width="0.3">1</text>
<line x1="47.4" y1="467.4" x2="50" y2="467.4" stroke="#000" stroke-width="1.2"/>
<line x1="47.4" y1="459.1" x2="50" y2="459.1" stroke="#000" stroke-width="1.2"/>
<line x1="47.4" y1="453.2" x2="50" y2="453.2" stroke="#000" stroke-width="1.2"/>
<line x1="47.4" y1="448.6" x2="50" y2="448.6" stroke="#000" stroke-width="1.2"/>
<line x1="47.4" y1="444.9" x2="50" y2="444.9" stroke="#000" stroke-width="1.2"/>
<line x1="47.4" y1="441.8" x2="50" y2="441.8" stroke="#000" stroke-width="1.2"/>
<line x1="47.4" y1="439.1" x2="50" y2="439.1" stroke="#000" stroke-width="1.2"/>
<line x1="47.4" y1="436.7" x2="50" y2="436.7" stroke="#000" stroke-width="1.2"/>
<line x1="45.5" y1="434.5" x2="50" y2="434.5" stroke="#000" stroke-width="1.5"/>
<text x="43.2" y="439.8" font-family="&quot;Liberation Serif&quot;, serif" font-size="10.5" text-anchor="end" stroke="#000" stroke-width="0.3">10</text>
<line x1="47.4" y1="420.4" x2="50" y2="420.4" stroke="#000" stroke-width="1.2"/>
<line x1="47.4" y1="412.1" x2="50" y2="412.1" stroke="#000" stroke-width="1.2"/>
<line x1="47.4" y1="406.2" x2="50" y2="406.2" stroke="#000" stroke-width="1.2"/>
<line x1="47.4" y1="401.6" x2="50" y2="401.6" stroke="#000" stroke-width="1.2"/>
<line x1="47.4" y1="397.9" x2="50" y2="397.9" stroke="#000" stroke-width="1.2"/>
<line x1="47.4" y1="394.8" x2="50" y2="394.8" stroke="#000" stroke-width="1.2"/>
<line x1="47.4" y1="392.1" x2="50" y2="392.1" stroke="#000" stroke-width="1.2"/>
<line x1="47.4" y1="389.7" x2="50" y2="389.7" stroke="#000" stroke-width="1.2"/>
<line x1="45.5" y1="387.5" x2="50" y2="387.5" stroke="#000" stroke-width="1.5"/>
<text x="43.2" y="392.8" font-family="&quot;Liberation Serif&quot;, serif" font-size="10.5" text-anchor="end" stroke="#000" stroke-width="0.3">100</text>
<line x1="47.4" y1="373.4" x2="50" y2="373.4" stroke="#000" stroke-width="1.2"/>
<line x1="47.4" y1="365.1" x2="50" y2="365.1" stroke="#000" stroke-width="1.2"/>
<line x1="47.4" y1="359.2" x2="50" y2="359.2" stroke="#000" stroke-width="1.2"/>
<line x1="47.4" y1="354.6" x2="50" y2="354.6" stroke="#000" stroke-width="1.2"/>
<line x1="47.4" y1="350.9" x2="50" y2="350.9" stroke="#000" stroke-width="1.2"/>
<line x1="47.4" y1="347.8" x2="50" y2="347.8" stroke="#000" stroke-width="1.2"/>
<line x1="47.4" y1="345.1" x2="50" y2="345.1" stroke="#000" stroke-width="1.2"/>
<line x1="47.4" y1="342.7" x2="50" y2="342.7" stroke="#000" stroke-width="1.2"/>
<line x1="45.5" y1="340.5" x2="50" y2="340.5" stroke="#000" stroke-width="1.5"/>
<text x="43.2" y="345.8" font-family="&quot;Liberation Serif&quot;, serif" font-size="10.5" text-anchor="end" stroke="#000" stroke-width="0.3">1000</text>
<line x1="47.4" y1="326.4" x2="50" y2="326.4" stroke="#000" stroke-width="1.2"/>
<line x1="47.4" y1="318.1" x2="50" y2="318.1" stroke="#000" stroke-width="1.2"/>
<line x1="47.4" y1="312.2" x2="50" y2="312.2" stroke="#000" stroke-width="1.2"/>
<line x1="47.4" y1="307.6" x2="50" y2="307.6" stroke="#000" stroke-width="1.2"/>
<line x1="47.4" y1="303.9" x2="50" y2="303.9" stroke="#000" stroke-width="1.2"/>
<line x1="47.4" y1="300.8" x2="50" y2="300.8" stroke="#000" stroke-width="1.2"/>
<line x1="47.4" y1="298.1" x2="50" y2="298.1" stroke="#000" stroke-width="1.2"/>
<line x1="47.4" y1="295.7" x2="50" y2="295.7" stroke="#000" stroke-width="1.2"/>
<line x1="45.5" y1="293.5" x2="50" y2="293.5" stroke="#000" stroke-width="1.5"/>
<text x="43.2" y="298.8" font-family="&quot;Liberation Serif&quot;, serif" font-size="10.5" text-anchor="end" stroke="#000" stroke-width="0.3">10000</text>
<line x1="50.8" y1="481.6" x2="50.8" y2="486.1" stroke="#000" stroke-width="1.5"/>
<text x="50.8" y="497.6" font-family="&quot;Liberation Serif&quot;, serif" font-size="10.5" text-anchor="middle" stroke="#000" stroke-width="0.3">1</text>
<line x1="64.9" y1="481.6" x2="64.9" y2="484.20000000000005" stroke="#000" stroke-width="1.2"/>
<line x1="73.2" y1="481.6" x2="73.2" y2="484.20000000000005" stroke="#000" stroke-width="1.2"/>
<line x1="79.0" y1="481.6" x2="79.0" y2="484.20000000000005" stroke="#000" stroke-width="1.2"/>
<line x1="83.6" y1="481.6" x2="83.6" y2="484.20000000000005" stroke="#000" stroke-width="1.2"/>
<line x1="87.3" y1="481.6" x2="87.3" y2="484.20000000000005" stroke="#000" stroke-width="1.2"/>
<line x1="90.4" y1="481.6" x2="90.4" y2="484.20000000000005" stroke="#000" stroke-width="1.2"/>
<line x1="93.2" y1="481.6" x2="93.2" y2="484.20000000000005" stroke="#000" stroke-width="1.2"/>
<line x1="95.6" y1="481.6" x2="95.6" y2="484.20000000000005" stroke="#000" stroke-width="1.2"/>
<line x1="97.7" y1="481.6" x2="97.7" y2="486.1" stroke="#000" stroke-width="1.5"/>
<text x="97.7" y="497.6" font-family="&quot;Liberation Serif&quot;, serif" font-size="10.5" text-anchor="middle" stroke="#000" stroke-width="0.3">10</text>
<line x1="111.8" y1="481.6" x2="111.8" y2="484.20000000000005" stroke="#000" stroke-width="1.2"/>
<line x1="120.1" y1="481.6" x2="120.1" y2="484.20000000000005" stroke="#000" stroke-width="1.2"/>
<line x1="125.9" y1="481.6" x2="125.9" y2="484.20000000000005" stroke="#000" stroke-width="1.2"/>
<line x1="130.5" y1="481.6" x2="130.5" y2="484.20000000000005" stroke="#000" stroke-width="1.2"/>
<line x1="134.2" y1="481.6" x2="134.2" y2="484.20000000000005" stroke="#000" stroke-width="1.2"/>
<line x1="137.3" y1="481.6" x2="137.3" y2="484.20000000000005" stroke="#000" stroke-width="1.2"/>
<line x1="140.1" y1="481.6" x2="140.1" y2="484.20000000000005" stroke="#000" stroke-width="1.2"/>
<line x1="142.5" y1="481.6" x2="142.5" y2="484.20000000000005" stroke="#000" stroke-width="1.2"/>
<line x1="144.6" y1="481.6" x2="144.6" y2="486.1" stroke="#000" stroke-width="1.5"/>
<text x="144.6" y="497.6" font-family="&quot;Liberation Serif&quot;, serif" font-size="10.5" text-anchor="middle" stroke="#000" stroke-width="0.3">100</text>
<line x1="158.7" y1="481.6" x2="158.7" y2="484.20000000000005" stroke="#000" stroke-width="1.2"/>
<line x1="167.0" y1="481.6" x2="167.0" y2="484.20000000000005" stroke="#000" stroke-width="1.2"/>
<line x1="172.8" y1="481.6" x2="172.8" y2="484.20000000000005" stroke="#000" stroke-width="1.2"/>
<line x1="177.4" y1="481.6" x2="177.4" y2="484.20000000000005" stroke="#000" stroke-width="1.2"/>
<line x1="181.1" y1="481.6" x2="181.1" y2="484.20000000000005" stroke="#000" stroke-width="1.2"/>
<line x1="184.2" y1="481.6" x2="184.2" y2="484.20000000000005" stroke="#000" stroke-width="1.2"/>
<line x1="187.0" y1="481.6" x2="187.0" y2="484.20000000000005" stroke="#000" stroke-width="1.2"/>
<line x1="189.4" y1="481.6" x2="189.4" y2="484.20000000000005" stroke="#000" stroke-width="1.2"/>
<line x1="191.5" y1="481.6" x2="191.5" y2="486.1" stroke="#000" stroke-width="1.5"/>
<text x="191.5" y="497.6" font-family="&quot;Liberation Serif&quot;, serif" font-size="10.5" text-anchor="middle" stroke="#000" stroke-width="0.3">1000</text>
<line x1="205.6" y1="481.6" x2="205.6" y2="484.20000000000005" stroke="#000" stroke-width="1.2"/>
<line x1="213.9" y1="481.6" x2="213.9" y2="484.20000000000005" stroke="#000" stroke-width="1.2"/>
<line x1="219.7" y1="481.6" x2="219.7" y2="484.20000000000005" stroke="#000" stroke-width="1.2"/>
<line x1="224.3" y1="481.6" x2="224.3" y2="484.20000000000005" stroke="#000" stroke-width="1.2"/>
<line x1="228.0" y1="481.6" x2="228.0" y2="484.20000000000005" stroke="#000" stroke-width="1.2"/>
<line x1="231.1" y1="481.6" x2="231.1" y2="484.20000000000005" stroke="#000" stroke-width="1.2"/>
<line x1="233.9" y1="481.6" x2="233.9" y2="484.20000000000005" stroke="#000" stroke-width="1.2"/>
<line x1="236.3" y1="481.6" x2="236.3" y2="484.20000000000005" stroke="#000" stroke-width="1.2"/>
<line x1="238.4" y1="481.6" x2="238.4" y2="486.1" stroke="#000" stroke-width="1.5"/>
<text x="238.4" y="497.6" font-family="&quot;Liberation Serif&quot;, serif" font-size="10.5" text-anchor="middle" stroke="#000" stroke-width="0.3">10000</text>
<path d="M283 291H470.8V481.3" fill="none" stroke="#000" stroke-width="1.8"/>
<path d="M283 290.1V481.3H482.7" fill="none" stroke="#000" stroke-width="2.6"/>
<line x1="278.5" y1="481.2" x2="283" y2="481.2" stroke="#000" stroke-width="1.5"/>
<text x="276.2" y="486.5" font-family="&quot;Liberation Serif&quot;, serif" font-size="10.5" text-anchor="end" stroke="#000" stroke-width="0.3">1</text>
<line x1="280.4" y1="467.1" x2="283" y2="467.1" stroke="#000" stroke-width="1.2"/>
<line x1="280.4" y1="458.8" x2="283" y2="458.8" stroke="#000" stroke-width="1.2"/>
<line x1="280.4" y1="452.9" x2="283" y2="452.9" stroke="#000" stroke-width="1.2"/>
<line x1="280.4" y1="448.3" x2="283" y2="448.3" stroke="#000" stroke-width="1.2"/>
<line x1="280.4" y1="444.6" x2="283" y2="444.6" stroke="#000" stroke-width="1.2"/>
<line x1="280.4" y1="441.5" x2="283" y2="441.5" stroke="#000" stroke-width="1.2"/>
<line x1="280.4" y1="438.8" x2="283" y2="438.8" stroke="#000" stroke-width="1.2"/>
<line x1="280.4" y1="436.4" x2="283" y2="436.4" stroke="#000" stroke-width="1.2"/>
<line x1="278.5" y1="434.2" x2="283" y2="434.2" stroke="#000" stroke-width="1.5"/>
<text x="276.2" y="439.5" font-family="&quot;Liberation Serif&quot;, serif" font-size="10.5" text-anchor="end" stroke="#000" stroke-width="0.3">10</text>
<line x1="280.4" y1="420.1" x2="283" y2="420.1" stroke="#000" stroke-width="1.2"/>
<line x1="280.4" y1="411.8" x2="283" y2="411.8" stroke="#000" stroke-width="1.2"/>
<line x1="280.4" y1="405.9" x2="283" y2="405.9" stroke="#000" stroke-width="1.2"/>
<line x1="280.4" y1="401.3" x2="283" y2="401.3" stroke="#000" stroke-width="1.2"/>
<line x1="280.4" y1="397.6" x2="283" y2="397.6" stroke="#000" stroke-width="1.2"/>
<line x1="280.4" y1="394.5" x2="283" y2="394.5" stroke="#000" stroke-width="1.2"/>
<line x1="280.4" y1="391.8" x2="283" y2="391.8" stroke="#000" stroke-width="1.2"/>
<line x1="280.4" y1="389.4" x2="283" y2="389.4" stroke="#000" stroke-width="1.2"/>
<line x1="278.5" y1="387.2" x2="283" y2="387.2" stroke="#000" stroke-width="1.5"/>
<text x="276.2" y="392.5" font-family="&quot;Liberation Serif&quot;, serif" font-size="10.5" text-anchor="end" stroke="#000" stroke-width="0.3">100</text>
<line x1="280.4" y1="373.1" x2="283" y2="373.1" stroke="#000" stroke-width="1.2"/>
<line x1="280.4" y1="364.8" x2="283" y2="364.8" stroke="#000" stroke-width="1.2"/>
<line x1="280.4" y1="358.9" x2="283" y2="358.9" stroke="#000" stroke-width="1.2"/>
<line x1="280.4" y1="354.3" x2="283" y2="354.3" stroke="#000" stroke-width="1.2"/>
<line x1="280.4" y1="350.6" x2="283" y2="350.6" stroke="#000" stroke-width="1.2"/>
<line x1="280.4" y1="347.5" x2="283" y2="347.5" stroke="#000" stroke-width="1.2"/>
<line x1="280.4" y1="344.8" x2="283" y2="344.8" stroke="#000" stroke-width="1.2"/>
<line x1="280.4" y1="342.4" x2="283" y2="342.4" stroke="#000" stroke-width="1.2"/>
<line x1="278.5" y1="340.2" x2="283" y2="340.2" stroke="#000" stroke-width="1.5"/>
<text x="276.2" y="345.5" font-family="&quot;Liberation Serif&quot;, serif" font-size="10.5" text-anchor="end" stroke="#000" stroke-width="0.3">1000</text>
<line x1="280.4" y1="326.1" x2="283" y2="326.1" stroke="#000" stroke-width="1.2"/>
<line x1="280.4" y1="317.8" x2="283" y2="317.8" stroke="#000" stroke-width="1.2"/>
<line x1="280.4" y1="311.9" x2="283" y2="311.9" stroke="#000" stroke-width="1.2"/>
<line x1="280.4" y1="307.3" x2="283" y2="307.3" stroke="#000" stroke-width="1.2"/>
<line x1="280.4" y1="303.6" x2="283" y2="303.6" stroke="#000" stroke-width="1.2"/>
<line x1="280.4" y1="300.5" x2="283" y2="300.5" stroke="#000" stroke-width="1.2"/>
<line x1="280.4" y1="297.8" x2="283" y2="297.8" stroke="#000" stroke-width="1.2"/>
<line x1="280.4" y1="295.4" x2="283" y2="295.4" stroke="#000" stroke-width="1.2"/>
<line x1="278.5" y1="293.2" x2="283" y2="293.2" stroke="#000" stroke-width="1.5"/>
<text x="276.2" y="298.5" font-family="&quot;Liberation Serif&quot;, serif" font-size="10.5" text-anchor="end" stroke="#000" stroke-width="0.3">10000</text>
<line x1="293.5" y1="481.3" x2="293.5" y2="485.8" stroke="#000" stroke-width="1.5"/>
<text x="293.5" y="497.3" font-family="&quot;Liberation Serif&quot;, serif" font-size="10.5" text-anchor="middle" stroke="#000" stroke-width="0.3">1</text>
<line x1="307.7" y1="481.3" x2="307.7" y2="483.90000000000003" stroke="#000" stroke-width="1.2"/>
<line x1="316.0" y1="481.3" x2="316.0" y2="483.90000000000003" stroke="#000" stroke-width="1.2"/>
<line x1="321.9" y1="481.3" x2="321.9" y2="483.90000000000003" stroke="#000" stroke-width="1.2"/>
<line x1="326.4" y1="481.3" x2="326.4" y2="483.90000000000003" stroke="#000" stroke-width="1.2"/>
<line x1="330.2" y1="481.3" x2="330.2" y2="483.90000000000003" stroke="#000" stroke-width="1.2"/>
<line x1="333.3" y1="481.3" x2="333.3" y2="483.90000000000003" stroke="#000" stroke-width="1.2"/>
<line x1="336.0" y1="481.3" x2="336.0" y2="483.90000000000003" stroke="#000" stroke-width="1.2"/>
<line x1="338.4" y1="481.3" x2="338.4" y2="483.90000000000003" stroke="#000" stroke-width="1.2"/>
<line x1="340.6" y1="481.3" x2="340.6" y2="485.8" stroke="#000" stroke-width="1.5"/>
<text x="340.6" y="497.3" font-family="&quot;Liberation Serif&quot;, serif" font-size="10.5" text-anchor="middle" stroke="#000" stroke-width="0.3">10</text>
<line x1="354.8" y1="481.3" x2="354.8" y2="483.90000000000003" stroke="#000" stroke-width="1.2"/>
<line x1="363.1" y1="481.3" x2="363.1" y2="483.90000000000003" stroke="#000" stroke-width="1.2"/>
<line x1="369.0" y1="481.3" x2="369.0" y2="483.90000000000003" stroke="#000" stroke-width="1.2"/>
<line x1="373.5" y1="481.3" x2="373.5" y2="483.90000000000003" stroke="#000" stroke-width="1.2"/>
<line x1="377.3" y1="481.3" x2="377.3" y2="483.90000000000003" stroke="#000" stroke-width="1.2"/>
<line x1="380.4" y1="481.3" x2="380.4" y2="483.90000000000003" stroke="#000" stroke-width="1.2"/>
<line x1="383.1" y1="481.3" x2="383.1" y2="483.90000000000003" stroke="#000" stroke-width="1.2"/>
<line x1="385.5" y1="481.3" x2="385.5" y2="483.90000000000003" stroke="#000" stroke-width="1.2"/>
<line x1="387.7" y1="481.3" x2="387.7" y2="485.8" stroke="#000" stroke-width="1.5"/>
<text x="387.7" y="497.3" font-family="&quot;Liberation Serif&quot;, serif" font-size="10.5" text-anchor="middle" stroke="#000" stroke-width="0.3">100</text>
<line x1="401.9" y1="481.3" x2="401.9" y2="483.90000000000003" stroke="#000" stroke-width="1.2"/>
<line x1="410.2" y1="481.3" x2="410.2" y2="483.90000000000003" stroke="#000" stroke-width="1.2"/>
<line x1="416.1" y1="481.3" x2="416.1" y2="483.90000000000003" stroke="#000" stroke-width="1.2"/>
<line x1="420.6" y1="481.3" x2="420.6" y2="483.90000000000003" stroke="#000" stroke-width="1.2"/>
<line x1="424.4" y1="481.3" x2="424.4" y2="483.90000000000003" stroke="#000" stroke-width="1.2"/>
<line x1="427.5" y1="481.3" x2="427.5" y2="483.90000000000003" stroke="#000" stroke-width="1.2"/>
<line x1="430.2" y1="481.3" x2="430.2" y2="483.90000000000003" stroke="#000" stroke-width="1.2"/>
<line x1="432.6" y1="481.3" x2="432.6" y2="483.90000000000003" stroke="#000" stroke-width="1.2"/>
<line x1="434.8" y1="481.3" x2="434.8" y2="485.8" stroke="#000" stroke-width="1.5"/>
<text x="434.8" y="497.3" font-family="&quot;Liberation Serif&quot;, serif" font-size="10.5" text-anchor="middle" stroke="#000" stroke-width="0.3">1000</text>
<line x1="449.0" y1="481.3" x2="449.0" y2="483.90000000000003" stroke="#000" stroke-width="1.2"/>
<line x1="457.3" y1="481.3" x2="457.3" y2="483.90000000000003" stroke="#000" stroke-width="1.2"/>
<line x1="463.2" y1="481.3" x2="463.2" y2="483.90000000000003" stroke="#000" stroke-width="1.2"/>
<line x1="467.7" y1="481.3" x2="467.7" y2="483.90000000000003" stroke="#000" stroke-width="1.2"/>
<line x1="471.5" y1="481.3" x2="471.5" y2="483.90000000000003" stroke="#000" stroke-width="1.2"/>
<line x1="474.6" y1="481.3" x2="474.6" y2="483.90000000000003" stroke="#000" stroke-width="1.2"/>
<line x1="477.3" y1="481.3" x2="477.3" y2="483.90000000000003" stroke="#000" stroke-width="1.2"/>
<line x1="479.7" y1="481.3" x2="479.7" y2="483.90000000000003" stroke="#000" stroke-width="1.2"/>
<line x1="481.9" y1="481.3" x2="481.9" y2="485.8" stroke="#000" stroke-width="1.5"/>
<text x="481.9" y="497.3" font-family="&quot;Liberation Serif&quot;, serif" font-size="10.5" text-anchor="middle" stroke="#000" stroke-width="0.3">10000</text>
<path d="M118.3 115.6 L123.1 106.9 L130.8 99.2 L155.8 93.5 L169.2 87.3 L184.6 94.4 L193.3 106.0 L193.3 124.2 L184.6 133.8 L165.4 144.4 L148.1 150.2 L134.6 152.1 L123.1 145.4 L117.3 135.8 L117.3 124.2 Z" fill="none" stroke="#000" stroke-width="2.6" stroke-linejoin="round"/>
<path d="M334.4 143.5 L337.3 121.3 L350.8 107.9 L375.8 103.5 L389.2 95.0 L404.6 102.1 L412.3 113.7 L412.3 132.9 L400.8 141.5 L375.8 155.0 L356.5 160.8 L343.1 156.0 Z" fill="none" stroke="#000" stroke-width="2.6" stroke-linejoin="round"/>
<path d="M101.5 338.1 L103.5 315.0 L113.1 305.4 L140.0 297.7 L147.7 293.5 L161.2 292.9 L172.7 299.6 L178.5 311.2 L177.5 328.5 L166.9 341.0 L149.6 347.7 L132.3 353.5 L118.8 357.3 L109.2 351.5 Z" fill="none" stroke="#000" stroke-width="2.6" stroke-linejoin="round"/>
<path d="M332.5 339.0 L335.4 315.0 L346.9 304.4 L370.0 298.1 L379.6 292.9 L396.9 292.9 L404.6 297.7 L409.4 307.3 L409.4 328.5 L400.8 338.1 L377.7 347.7 L354.6 356.3 L345.0 352.5 L337.3 345.8 Z" fill="none" stroke="#000" stroke-width="2.6" stroke-linejoin="round"/>
<text x="0.5" y="27.8" font-family="&quot;Liberation Sans&quot;, sans-serif" font-weight="bold" font-size="38">A</text>
<text x="147.2" y="43" font-family="&quot;Liberation Sans&quot;, sans-serif" stroke="#000" stroke-width="0.25" font-weight="bold" font-size="20.7" text-anchor="middle">Mouse IgG</text>
<text x="367.3" y="42.2" font-family="&quot;Liberation Sans&quot;, sans-serif" stroke="#000" stroke-width="0.25" font-weight="bold" font-size="20.4" text-anchor="middle">L3D10</text>
<text x="198.6" y="84" font-family="&quot;Liberation Sans&quot;, sans-serif" stroke="#000" stroke-width="0.25" font-weight="bold" font-size="20">3.4</text>
<text x="420.3" y="93.8" font-family="&quot;Liberation Sans&quot;, sans-serif" stroke="#000" stroke-width="0.25" font-weight="bold" font-size="20">31.1</text>
<text x="197.5" y="327.6" font-family="&quot;Liberation Sans&quot;, sans-serif" stroke="#000" stroke-width="0.25" font-weight="bold" font-size="20">3.4</text>
<text x="422.3" y="318.7" font-family="&quot;Liberation Sans&quot;, sans-serif" stroke="#000" stroke-width="0.25" font-weight="bold" font-size="20">53.3</text>
<text transform="translate(17.4,172) rotate(-90)" font-family="&quot;Liberation Sans&quot;, sans-serif" stroke="#000" stroke-width="0.25" font-weight="bold" font-size="20.5">CD4</text>
<text transform="translate(17.7,392) rotate(-90)" font-family="&quot;Liberation Sans&quot;, sans-serif" stroke="#000" stroke-width="0.25" font-weight="bold" font-size="20">CD8</text>
<text x="118.5" y="530.5" font-family="&quot;Liberation Sans&quot;, sans-serif" stroke="#000" stroke-width="0.25" font-weight="bold" font-size="20">CD3</text>
<line x1="175.3" y1="523" x2="392" y2="523" stroke="#000" stroke-width="2"/>
<path d="M391 517.5 L402.5 523 L391 528.5 Z" fill="#000"/>
<text x="-1.3" y="597.4" font-family="&quot;Liberation Sans&quot;, sans-serif" font-weight="bold" font-size="35">B</text>
<path d="M56.2 612.6H515V848.5" fill="none" stroke="#555" stroke-width="2.4"/>
<path d="M56.2 613.5V848.5H515" fill="none" stroke="#333" stroke-width="2"/>
<line x1="51.7" y1="848.5" x2="56.2" y2="848.5" stroke="#333" stroke-width="1.5"/>
<text x="51.0" y="856.6" font-family="&quot;Liberation Sans&quot;, sans-serif" stroke="#000" stroke-width="0.3" font-size="20" text-anchor="end">0</text>
<line x1="51.7" y1="809.3" x2="56.2" y2="809.3" stroke="#333" stroke-width="1.5"/>
<text x="51.0" y="818.6" font-family="&quot;Liberation Sans&quot;, sans-serif" stroke="#000" stroke-width="0.3" font-size="20" text-anchor="end">10</text>
<line x1="51.7" y1="770.2" x2="56.2" y2="770.2" stroke="#333" stroke-width="1.5"/>
<text x="51.0" y="779.8" font-family="&quot;Liberation Sans&quot;, sans-serif" stroke="#000" stroke-width="0.3" font-size="20" text-anchor="end">20</text>
<line x1="51.7" y1="731.0" x2="56.2" y2="731.0" stroke="#333" stroke-width="1.5"/>
<text x="51.0" y="739.9" font-family="&quot;Liberation Sans&quot;, sans-serif" stroke="#000" stroke-width="0.3" font-size="20" text-anchor="end">30</text>
<line x1="51.7" y1="691.8" x2="56.2" y2="691.8" stroke="#333" stroke-width="1.5"/>
<text x="51.0" y="701.2" font-family="&quot;Liberation Sans&quot;, sans-serif" stroke="#000" stroke-width="0.3" font-size="20" text-anchor="end">40</text>
<line x1="51.7" y1="652.7" x2="56.2" y2="652.7" stroke="#333" stroke-width="1.5"/>
<text x="51.0" y="660.8" font-family="&quot;Liberation Sans&quot;, sans-serif" stroke="#000" stroke-width="0.3" font-size="20" text-anchor="end">50</text>
<line x1="51.7" y1="613.5" x2="56.2" y2="613.5" stroke="#333" stroke-width="1.5"/>
<text x="51.0" y="620.4" font-family="&quot;Liberation Sans&quot;, sans-serif" stroke="#000" stroke-width="0.3" font-size="20" text-anchor="end">60</text>
<rect x="76.2" y="834.0" width="14.3" height="14.5" fill="#000"/>
<rect x="91.0" y="831.5" width="11.0" height="17.0" fill="#b4b4b4" stroke="#000" stroke-width="2"/>
<rect x="153.5" y="636.6" width="14.3" height="211.9" fill="#000"/>
<rect x="168.3" y="725.3" width="11.0" height="123.2" fill="#b4b4b4" stroke="#000" stroke-width="2"/>
<rect x="230.5" y="722.8" width="14.3" height="125.7" fill="#000"/>
<rect x="245.3" y="782.1" width="11.0" height="66.4" fill="#b4b4b4" stroke="#000" stroke-width="2"/>
<rect x="307.3" y="665.6" width="14.3" height="182.9" fill="#000"/>
<rect x="322.1" y="761.8" width="11.0" height="86.7" fill="#b4b4b4" stroke="#000" stroke-width="2"/>
<rect x="385.2" y="695.4" width="14.3" height="153.1" fill="#000"/>
<rect x="400.0" y="778.2" width="11.0" height="70.3" fill="#b4b4b4" stroke="#000" stroke-width="2"/>
<rect x="462.6" y="763.5" width="14.3" height="85.0" fill="#000"/>
<rect x="477.4" y="733.2" width="11.0" height="115.3" fill="#b4b4b4" stroke="#000" stroke-width="2"/>
<path d="M56.2 883.1H515.9V1116.4" fill="none" stroke="#555" stroke-width="2.4"/>
<path d="M56.2 883.8V1116.4H515.9" fill="none" stroke="#333" stroke-width="2"/>
<line x1="51.7" y1="1116.4" x2="56.2" y2="1116.4" stroke="#333" stroke-width="1.5"/>
<text x="53.6" y="1129.4" font-family="&quot;Liberation Sans&quot;, sans-serif" stroke="#000" stroke-width="0.3" font-size="20" text-anchor="end">0</text>
<line x1="51.7" y1="1069.9" x2="56.2" y2="1069.9" stroke="#333" stroke-width="1.5"/>
<text x="53.6" y="1083.6" font-family="&quot;Liberation Sans&quot;, sans-serif" stroke="#000" stroke-width="0.3" font-size="20" text-anchor="end">5</text>
<line x1="51.7" y1="1023.4" x2="56.2" y2="1023.4" stroke="#333" stroke-width="1.5"/>
<text x="53.6" y="1035.9" font-family="&quot;Liberation Sans&quot;, sans-serif" stroke="#000" stroke-width="0.3" font-size="20" text-anchor="end">10</text>
<line x1="51.7" y1="976.8" x2="56.2" y2="976.8" stroke="#333" stroke-width="1.5"/>
<text x="53.6" y="990.0" font-family="&quot;Liberation Sans&quot;, sans-serif" stroke="#000" stroke-width="0.3" font-size="20" text-anchor="end">15</text>
<line x1="51.7" y1="930.3" x2="56.2" y2="930.3" stroke="#333" stroke-width="1.5"/>
<text x="53.6" y="941.7" font-family="&quot;Liberation Sans&quot;, sans-serif" stroke="#000" stroke-width="0.3" font-size="20" text-anchor="end">20</text>
<line x1="51.7" y1="883.8" x2="56.2" y2="883.8" stroke="#333" stroke-width="1.5"/>
<text x="53.6" y="895.3" font-family="&quot;Liberation Sans&quot;, sans-serif" stroke="#000" stroke-width="0.3" font-size="20" text-anchor="end">25</text>
<rect x="79.7" y="1107.6" width="14.3" height="8.8" fill="#000"/>
<rect x="94.5" y="1106.2" width="11.0" height="10.2" fill="#b4b4b4" stroke="#000" stroke-width="2"/>
<rect x="155.3" y="934.7" width="14.3" height="181.7" fill="#000"/>
<rect x="170.1" y="1009.5" width="11.0" height="106.9" fill="#b4b4b4" stroke="#000" stroke-width="2"/>
<rect x="232.2" y="1024.8" width="14.3" height="91.6" fill="#000"/>
<rect x="247.0" y="1066.8" width="11.0" height="49.6" fill="#b4b4b4" stroke="#000" stroke-width="2"/>
<rect x="308.4" y="1051.3" width="14.3" height="65.1" fill="#000"/>
<rect x="323.2" y="1084.5" width="11.0" height="31.9" fill="#b4b4b4" stroke="#000" stroke-width="2"/>
<rect x="384.5" y="1002.7" width="14.3" height="113.7" fill="#000"/>
<rect x="399.3" y="1063.3" width="11.0" height="53.1" fill="#b4b4b4" stroke="#000" stroke-width="2"/>
<rect x="461.6" y="1091.3" width="14.3" height="25.1" fill="#000"/>
<rect x="476.4" y="1082.3" width="11.0" height="34.1" fill="#b4b4b4" stroke="#000" stroke-width="2"/>
<rect x="419" y="629" width="14" height="13.6" fill="#000"/>
<text x="435.5" y="644.5" font-family="&quot;Liberation Sans&quot;, sans-serif" stroke="#000" stroke-width="0.3" font-size="20.5">CD8</text>
<rect x="420" y="657" width="12" height="11.6" fill="#b4b4b4" stroke="#000" stroke-width="2"/>
<text x="435.5" y="671.5" font-family="&quot;Liberation Sans&quot;, sans-serif" stroke="#000" stroke-width="0.3" font-size="20.5">CD4</text>
<text transform="translate(16.3,828) rotate(-90)" font-family="&quot;Liberation Sans&quot;, sans-serif" stroke="#000" stroke-width="0.3" font-size="20.5">% of lymphocyte gate</text>
<text transform="translate(27.8,1069.5) rotate(-90)" font-family="&quot;Liberation Sans&quot;, sans-serif" stroke="#000" stroke-width="0.3" font-size="20.5">Cell number (10<tspan font-size="13" dy="-6.8">6</tspan><tspan dy="6.8">)</tspan></text>
<text x="92.3" y="1147.2" font-family="&quot;Liberation Sans&quot;, sans-serif" stroke="#000" stroke-width="0.3" font-size="20.5" text-anchor="middle">IgG</text>
<text x="173.5" y="1147.2" font-family="&quot;Liberation Sans&quot;, sans-serif" stroke="#000" stroke-width="0.3" font-size="20.5" text-anchor="middle">L3D10</text>
<text x="252.1" y="1147.2" font-family="&quot;Liberation Sans&quot;, sans-serif" stroke="#000" stroke-width="0.3" font-size="20.5" text-anchor="middle">L1B11</text>
<text x="328.5" y="1147.2" font-family="&quot;Liberation Sans&quot;, sans-serif" stroke="#000" stroke-width="0.3" font-size="20.5" text-anchor="middle">K4G4</text>
<text x="406.2" y="1147.2" font-family="&quot;Liberation Sans&quot;, sans-serif" stroke="#000" stroke-width="0.3" font-size="20.5" text-anchor="middle">KM10</text>
<text x="479.3" y="1147.2" font-family="&quot;Liberation Sans&quot;, sans-serif" stroke="#000" stroke-width="0.3" font-size="20.5" text-anchor="middle">YL2</text>
</svg>
</body></html>
